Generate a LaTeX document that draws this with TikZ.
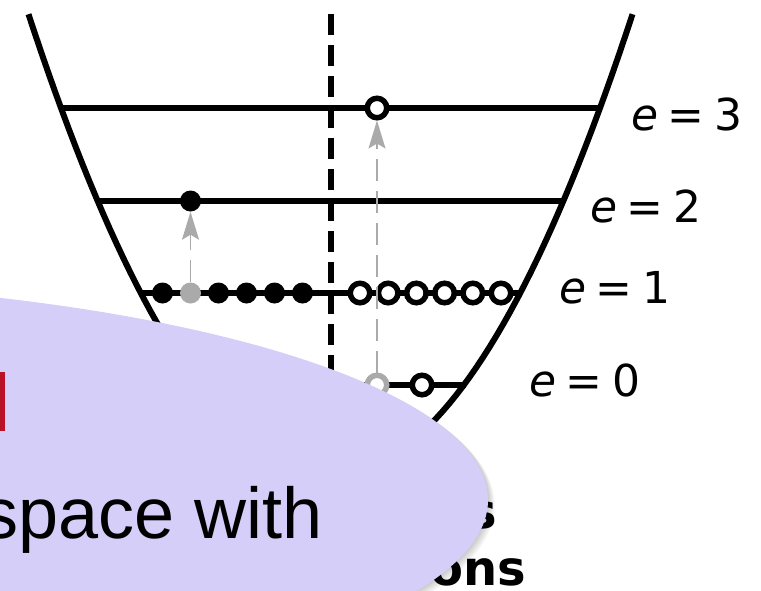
\documentclass[tikz,border=0pt]{standalone}
\usepackage{fontspec}
\setmainfont{Liberation Sans}
\newfontfamily\dejavu{DejaVu Sans}
\usetikzlibrary{arrows.meta}
\definecolor{lav}{RGB}{212,206,248}
\definecolor{redbar}{RGB}{185,18,40}
\definecolor{agray}{RGB}{170,170,170}
\begin{document}
\begin{tikzpicture}[x=1pt,y=-1pt,
  blk/.style={line width=6pt},
  fdot/.style={circle,fill=black,inner sep=0pt,minimum size=21pt},
  gdot/.style={circle,fill=agray,inner sep=0pt,minimum size=21pt},
  odot/.style={circle,draw=black,line width=5.5pt,fill=white,inner sep=0pt,minimum size=19.5pt},
  godot/.style={odot,draw=agray},
  trans/.style={draw=agray,line width=1.5pt,dash pattern=on 22pt off 10pt,
    -{Stealth[length=28pt,width=17pt,inset=5pt,fill=agray]}},
  lab/.style={anchor=base west,inner sep=0pt,font=\dejavu\fontsize{44}{50}\selectfont},
  btxt/.style={anchor=base east,inner sep=0pt,font=\dejavu\bfseries\fontsize{48}{56}\selectfont},
]
\useasboundingbox (0,0) rectangle (761,590);
\clip (0,0) rectangle (761,590);
% potential
\draw[blk] plot[domain=-302:302,samples=90] ({330.5+\x},{474.8-50.5*(\x/100)*(\x/100)});
% symmetry axis
\draw[line width=6.5pt,dash pattern=on 21pt off 10pt] (331,14) -- (331,470);
% levels
\coordinate (l3) at (61,108);  \coordinate (r3) at (600,108);
\coordinate (l2) at (97.7,201); \coordinate (r2) at (563.3,201);
\coordinate (l1) at (140.8,293); \coordinate (r1) at (520.2,293);
\coordinate (l0) at (197.2,385); \coordinate (r0) at (466,385);
\draw[blk] (l3) -- (r3);
\draw[blk] (l2) -- (r2);
\draw[blk] (l1) -- (r1);
\draw[blk] (l0) -- (r0);
% e=1 particles
\node[fdot] (p1) at (162.5,293) {};
\node[gdot] (p2) at (190.5,293) {};
\node[fdot] (p3) at (218.5,293) {};
\node[fdot] (p4) at (246.5,293) {};
\node[fdot] (p5) at (274.5,293) {};
\node[fdot] (p6) at (302.5,293) {};
\node[odot] (h1) at (360,293) {};
\node[odot] (h2) at (388.2,293) {};
\node[odot] (h3) at (416.4,293) {};
\node[odot] (h4) at (444.6,293) {};
\node[odot] (h5) at (472.8,293) {};
\node[odot] (h6) at (501,293) {};
% e=2, e=3
\node[fdot] (p7) at (190.5,201) {};
\node[odot] (h7) at (377,108) {};
% e=0
\node[godot] (h8) at (377,385) {};
\node[odot] (h9) at (422,385) {};
% excitations
\draw[trans] (p2.north) -- (p7.south);
\draw[trans] (h8.north) -- (h7.south);
% labels
\node[lab] (e3) at (631,130) {\itshape e\hspace{0.22em}=\hspace{0.22em}\upshape 3};
\node[lab] (e2) at (590,222) {\itshape e\hspace{0.22em}=\hspace{0.22em}\upshape 2};
\node[lab] (e1) at (559,303) {\itshape e\hspace{0.22em}=\hspace{0.22em}\upshape 1};
\node[lab] (e0) at (529,396) {\itshape e\hspace{0.22em}=\hspace{0.22em}\upshape 0};
% bold caption fragments
\node[btxt] (c1) at (497,528) {s};
\node[btxt] (c2) at (526,585) {ons};
% overlay ellipse with soft shadow
\foreach \i in {1,...,6}
  \fill[black,opacity=0.035] ({-300+0.7*\i},{500+0.9*\i}) ellipse [x radius={788+0.4*\i}, y radius={218.5+0.4*\i}];
\fill[lav] (-300,500) ellipse [x radius=788, y radius=218.5];
\fill[redbar] (0,372) rectangle (5,431);
\node[anchor=base east,inner sep=0pt,font=\fontsize{72}{86}\selectfont] (sw) at (323,538) {space with};
\end{tikzpicture}
\end{document}
